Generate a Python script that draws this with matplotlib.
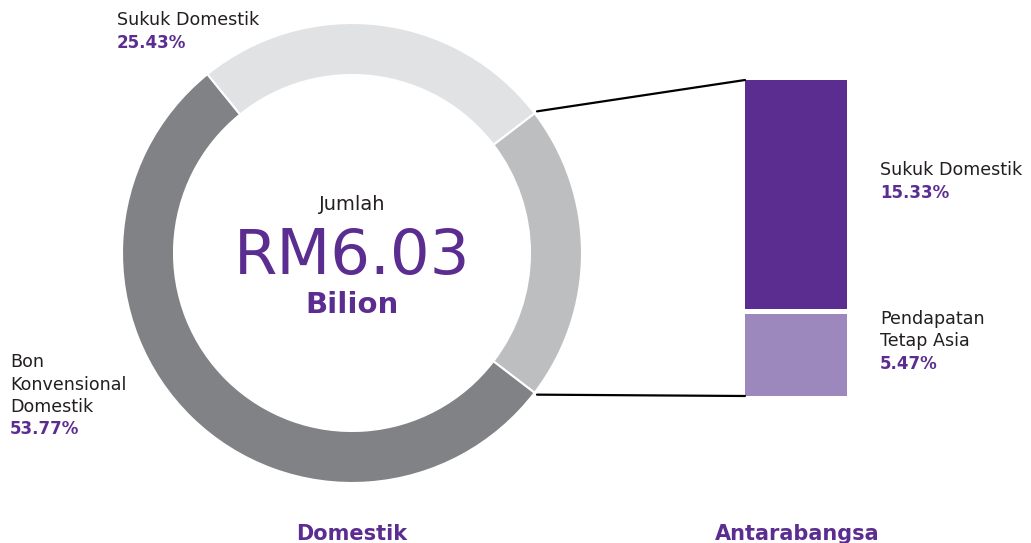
import matplotlib
matplotlib.use("Agg")
import matplotlib.pyplot as plt
import numpy as np
from matplotlib.patches import ConnectionPatch

# portfolio split (percent of total)
donut_labels = ["Antarabangsa", "Sukuk Domestik", "Bon Konvensional Domestik"]
intl_labels = ["Pendapatan Tetap Asia", "Sukuk Domestik"]
intl_values = [5.47, 15.33]
donut_values = [round(sum(intl_values), 2), 25.43, 53.77]
total_text = "RM6.03"

PURPLE = "#5c2d91"
LIGHT_PURPLE = "#9d88be"
GREYS = ["#bdbec0", "#e1e2e4", "#818285"]
TEXT = "#231f20"
FONT = ["DejaVu Sans"]

W, H = 1031, 543
fig = plt.figure(figsize=(W / 100, H / 100), dpi=100)
ax = fig.add_axes([0, 0, 1, 1])


def py(y):
    # pixel row (from top) -> data y
    return H - y


# donut, with the international slice centred on the right-hand side
start = -donut_values[0] / 100 * 360 / 2
wedges, _ = ax.pie(donut_values, colors=GREYS, startangle=start,
                   center=(352, py(253)), radius=230,
                   wedgeprops=dict(width=52, edgecolor="white", linewidth=1.5))
ax.set_xlim(0, W)
ax.set_ylim(0, H)
ax.set_aspect("equal")
ax.axis("off")

ax.text(352, py(204), "Jumlah", ha="center", va="center", fontsize=14,
        color=TEXT, family=FONT)
ax.text(352, py(257), total_text, ha="center", va="center", fontsize=45,
        color=PURPLE, family=FONT)
ax.text(352, py(305), "Bilion", ha="center", va="center", fontsize=21,
        color=PURPLE, family=FONT, fontweight="bold")


def label(x, y0, lines, pct, step=22.5):
    for i, s in enumerate(lines):
        ax.text(x, py(y0 + i * step), s, ha="left", va="center", fontsize=12.6,
                color=TEXT, family=FONT)
    ax.text(x, py(y0 + len(lines) * step), f"{pct:.2f}%", ha="left",
            va="center", fontsize=12, color=PURPLE, family=FONT,
            fontweight="bold")


label(117, 20, ["Sukuk Domestik"], donut_values[1])
label(10, 362, ["Bon", "Konvensional", "Domestik"], donut_values[2])

# stacked bar for the international breakdown
bx0, bx1, by0, by1 = 745, 847, 80, 396
gap = 0.33
bax = fig.add_axes([bx0 / W, 1 - by1 / H, (bx1 - bx0) / W, (by1 - by0) / H])
bax.bar(0, intl_values[0], width=1, bottom=0, color=LIGHT_PURPLE)
bax.bar(0, intl_values[1], width=1, bottom=intl_values[0] + gap, color=PURPLE)
bax.set_xlim(-0.5, 0.5)
bax.set_ylim(0, sum(intl_values) + gap)
bax.axis("off")

label(880, 170, [intl_labels[1]], intl_values[1])
label(880, 319, ["Pendapatan", "Tetap Asia"], intl_values[0])

# connector lines from the donut slice to the bar corners
w = wedges[0]
for ang, ybar in [(w.theta2, sum(intl_values) + gap), (w.theta1, 0)]:
    t = np.deg2rad(ang)
    cx, cy = w.center
    x = cx + (w.r + 3) * np.cos(t)
    y = cy + (w.r + 3) * np.sin(t)
    con = ConnectionPatch(xyA=(-0.5, ybar), coordsA=bax.transData,
                          xyB=(x, y), coordsB=ax.transData,
                          color="black", linewidth=1.6)
    fig.add_artist(con)

ax.text(352, py(534), "Domestik", ha="center", va="center", fontsize=15,
        color=PURPLE, family=FONT, fontweight="bold")
ax.text(797, py(534), "Antarabangsa", ha="center", va="center", fontsize=15,
        color=PURPLE, family=FONT, fontweight="bold")

fig.savefig("out.png", dpi=100)
